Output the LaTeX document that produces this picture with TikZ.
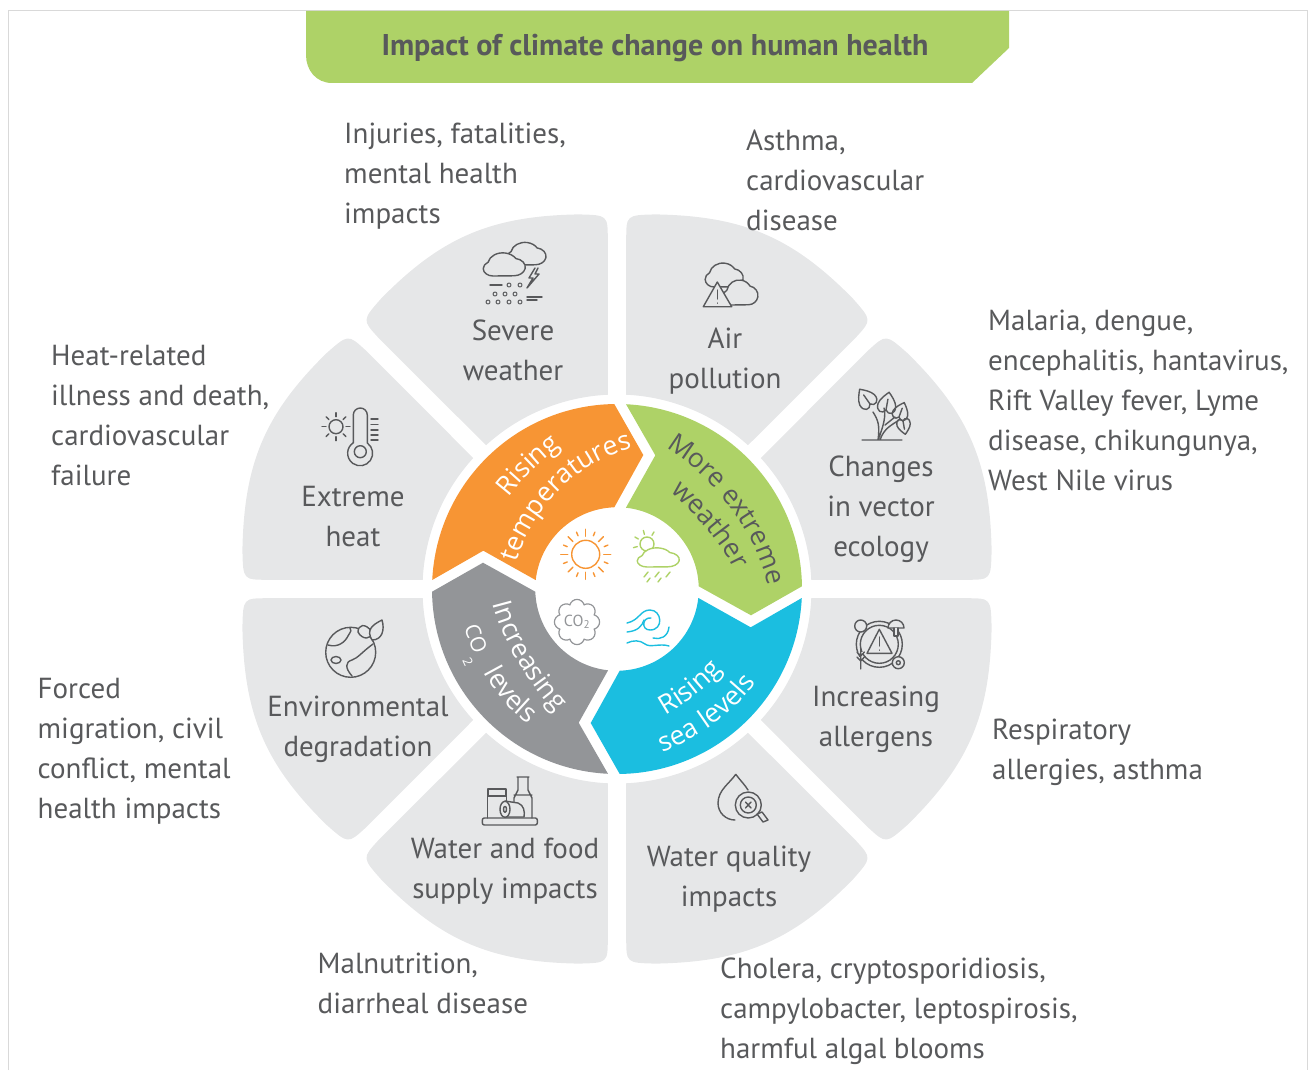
\documentclass[tikz,border=0pt]{standalone}
\usepackage{fontspec}
\setmainfont{PT Sans}
\newfontfamily\ringfamily{Open Sans}
\usetikzlibrary{decorations.text, shapes.symbols}
\definecolor{bannergreen}{HTML}{AED267}
\definecolor{ringorange}{HTML}{F79534}
\definecolor{ringblue}{HTML}{1BBEE0}
\definecolor{ringgray}{HTML}{939598}
\definecolor{sectorgray}{HTML}{E6E7E8}
\definecolor{textgray}{HTML}{58595B}
\newcommand{\ringfont}{\ringfamily\fontsize{26.5}{27}\selectfont}
\tikzset{x=1pt, y=1pt, % one unit is one pixel of the reference
sector/.style={fill=sectorgray},
segment/.style={fill=#1},
outcome/.style={anchor=north west, inner sep=0pt, align=left, text=textgray, font=\fontsize{29}{40}\selectfont},
factor/.style={anchor=north, inner sep=0pt, align=center, text=textgray, font=\fontsize{29}{40}\selectfont},
icon/.style={draw=textgray, line width=1.4pt, line cap=round, line join=round},
ringtext/.style 2 args={decorate, decoration={text along path, text align=center, text={|\ringfont\color{#1}|#2}}},
puff/.pic={\draw[pic actions] (0,0) arc[start angle=270,end angle=120,radius=8.5] arc[start angle=170,end angle=30,radius=13] arc[start angle=80,end angle=-90,radius=10] -- cycle;},
leaf/.pic={\draw[pic actions] (0,0) .. controls (3,5) and (10,3) .. (9,-5) .. controls (8,-10) and (3,-15) .. (0,-18) .. controls (-3,-15) and (-8,-10) .. (-9,-5) .. controls (-10,3) and (-3,5) .. (0,0) -- (0,-11);},
}
\begin{document}
\begin{tikzpicture}
\useasboundingbox (0,0) rectangle (1308,-1070);
\draw[gray!30, line width=1pt] (8,-1070) -- (8,-10.5) -- (1307,-10.5) -- (1307,-1070);

% banner
\fill[bannergreen] (306,-11) -- (1009,-11) -- (1009,-48) -- (972,-83) -- (332,-83) .. controls (316,-83) and (306,-70) .. (306,-55) -- cycle;
\node[text=textgray, font=\fontsize{30}{35}\selectfont\bfseries] (title) at (655,-48) {Impact of climate change on human health};

% grey sectors
\begin{scope}[shift={(617,-589)}]
\foreach \a/\d in {22.5/1,67.5/-1,112.5/1,157.5/-1,202.5/1,247.5/-1,292.5/1,337.5/-1}
\fill[sector, rotate=\a, yscale=\d] (19.84:194.5) -- (324,124.5) .. controls (346,132.5) and (346,132.5) .. (358.5,107)
.. controls (392.6,27) and (392.6,-27) .. (360.9,-107.6) .. controls (349,-134.6) and (349,-134.6) .. (325.9,-125)
-- (-19.84:194.5) arc[start angle=-19.84,end angle=19.84,radius=194.5] -- cycle;
% coloured ring
\foreach \a/\c in {0/ringorange,-90/bannergreen,-180/ringblue,-270/ringgray}
\fill[segment=\c, rotate=\a] (177.2:185) arc[start angle=177.2,end angle=90.84,radius=185] -- (26.3,134) -- (-2.7,81.7)
arc[start angle=91.9,end angle=173.7,radius=81.8] -- (-133.7,38.3) -- cycle;
\end{scope}

% ring labels
\path[ringtext={white}{Rising}] (505,-502) .. controls (522,-479) and (542,-460) .. (565,-443);
\path[ringtext={white}{temperatures}] (518,-557) .. controls (532,-515) and (570,-466) .. (627,-450);
\path[ringtext={textgray}{More extreme}] (668,-449) .. controls (700,-467) and (755,-525) .. (767,-583);
\path[ringtext={textgray}{weather}] (672,-493) .. controls (690,-510) and (720,-540) .. (733,-568);
\path[ringtext={white}{Rising}] (660,-718) .. controls (684,-705) and (708,-688) .. (726,-666);
\path[ringtext={white}{sea levels}] (656,-754) .. controls (690,-744) and (735,-715) .. (760,-677);
\path[ringtext={white}{Increasing}] (492,-600) .. controls (500,-638) and (529,-684) .. (558,-715);
\path[ringtext={white}{levels}] (481,-666) .. controls (492,-690) and (510,-712) .. (534,-728);
\node[text=white, font=\ringfamily\fontsize{21}{21}\selectfont, rotate=-70] (co) at (476,-639) {CO};
\node[text=white, font=\ringfamily\fontsize{13}{13}\selectfont, rotate=-65] (two) at (468,-662) {2};

% factor labels
\node[factor] (severe) at (513,-312) {\strut Severe\\weather};
\node[factor] (air) at (725,-320) {\strut Air\\pollution};
\node[factor] (vector) at (881,-448) {\strut Changes\\in vector\\ecology};
\node[factor] (allergens) at (876,-678) {\strut Increasing\\allergens};
\node[factor] (quality) at (729,-838) {\strut Water quality\\impacts};
\node[factor] (food) at (505,-830) {\strut Water and food\\supply impacts};
\node[factor] (degradation) at (358,-688) {\strut Environmental\\degradation};
\node[factor] (heat) at (353,-478) {\strut Extreme\\heat};

% outcome labels
\node[outcome] (injuries) at (344,-115) {\strut Injuries, fatalities,\\mental health\\impacts};
\node[outcome] (asthma) at (746,-122) {\strut Asthma,\\cardiovascular\\disease};
\node[outcome] (malaria) at (988,-302) {\strut Malaria, dengue,\\encephalitis, hantavirus,\\Rift Valley fever, Lyme\\disease, chikungunya,\\West Nile virus};
\node[outcome] (failure) at (51,-337) {\strut Heat-related\\illness and death,\\cardiovascular\\failure};
\node[outcome] (forced) at (37.5,-670) {\strut Forced\\migration, civil\\conflict, mental\\health impacts};
\node[outcome] (respiratory) at (992,-711) {\strut Respiratory\\allergies, asthma};
\node[outcome] (malnutrition) at (317.5,-945) {\strut Malnutrition,\\diarrheal disease};
\node[outcome] (cholera) at (720,-950) {\strut Cholera, cryptosporidiosis,\\campylobacter, leptospirosis,\\harmful algal blooms};

% centre icons
\draw[icon, draw=ringorange] (585.7,-554.3) circle (14);
\foreach \a in {0,45,...,315} \draw[icon, draw=ringorange] (585.7,-554.3) ++(\a:18) -- ++(\a:7);
\foreach \a in {22.5,67.5,...,337.5} \draw[icon, draw=ringorange] (585.7,-554.3) ++(\a:20) -- ++(\a:4);
\draw[icon, draw=bannergreen] (647,-544) circle (7);
\foreach \a in {60,105,150,195} \draw[icon, draw=bannergreen] (647,-544) ++(\a:10) -- ++(\a:4);
\pic[icon, draw=bannergreen, fill=white, xscale=1.15, yscale=.72] at (647,-567) {puff};
\foreach \x in {648,659,670} \draw[icon, draw=bannergreen] (\x,-572) -- ++(-4,-5);
\foreach \x in {650,661} \draw[icon, draw=bannergreen] (\x,-578) -- ++(-3,-4);
\node[cloud, draw=ringgray, line width=1.2pt, minimum width=42pt, minimum height=38pt, inner sep=0pt, cloud puffs=8, text=ringgray, font=\fontsize{16}{16}\selectfont] (cotwo) at (577,-622) {CO\textsubscript{2}};
\begin{scope}[line width=1.4pt, line cap=round]
\draw[ringblue] (627,-623) .. controls (640,-620) and (640,-610) .. (650,-610) .. controls (662,-610) and (664,-630) .. (650,-630) .. controls (641,-630) and (642,-617) .. (651,-618);
\draw[ringblue] (627,-632) .. controls (638,-631) and (642,-626) .. (644,-620);
\draw[ringblue] (653,-638) .. controls (660,-640) and (668,-637) .. (669,-627);
\draw[ringblue] (627,-643) .. controls (633,-640) and (640,-640) .. (645,-644) .. controls (650,-648) and (660,-643) .. (669,-646);
\end{scope}

% severe weather
\pic[icon, fill=sectorgray, xscale=1.08, yscale=.85] at (515.7,-265) {puff};
\pic[icon, fill=sectorgray, xscale=1.15, yscale=.87] at (493,-276) {puff};
\draw[icon] (535,-268) -- (529,-278) -- (533,-278) -- (527,-288) -- (539,-274) -- (535,-274) -- (538,-268);
\foreach \x/\y in {509/-285,520/-285,495/-294,505/-294,515/-294,488/-302,498/-302,509/-302,520/-302}
\draw[icon, line width=1pt] (\x,\y) circle (2);
\draw[icon] (490,-285) -- (502,-285) (527,-297) -- (542,-297) (527,-300) -- (537,-300);
% extreme heat
\draw[icon] (336,-426.7) circle (7);
\foreach \a in {0,45,...,315} \draw[icon] (336,-426.7) ++(\a:10) -- ++(\a:4);
\draw[icon] (353.3,-443) -- (353.3,-415) arc[start angle=180,end angle=0,radius=7] -- (367.3,-443) arc[start angle=55,end angle=-235,radius=12.5] -- cycle;
\draw[icon] (360.3,-451.7) circle (6);
\foreach \y in {-419,-424.5,-430,-435,-440} \draw[icon] (371,\y) -- (378,\y);
% air pollution
\pic[icon, fill=sectorgray, xscale=1.04, yscale=.9] at (714,-287) {puff};
\pic[icon, fill=sectorgray, xscale=.96, yscale=.94] at (731,-305) {puff};
\draw[icon, fill=sectorgray] (717.3,-282) -- (703.3,-306.7) -- (731.7,-306.7) -- cycle;
\draw[icon] (717.3,-290) -- (717.3,-299) (717.3,-303) -- (717.3,-303.2);
% vector ecology
\draw[icon] (862,-440) -- (902,-440) (878,-440) .. controls (880,-425) and (878,-420) .. (873,-412) (878,-440) .. controls (884,-425) and (886,-415) .. (884,-408) (880,-440) .. controls (884,-428) and (892,-425) .. (899,-420) (885,-425) -- (895,-417);
\pic[icon, rotate=215] at (870,-404) {leaf};
\pic[icon, rotate=170] at (886,-410) {leaf};
\pic[icon, rotate=160, scale=.85] at (899,-417) {leaf};
\pic[icon, rotate=10, scale=.75] at (903,-421) {leaf};
% increasing allergens
\draw[icon] (879.3,-644.3) circle (23);
\draw[icon] (879.3,-644.3) circle (19);
\draw[icon, fill=sectorgray] (860.7,-626) circle (6);
\draw[icon, fill=sectorgray] (898.3,-662.7) circle (6);
\draw[icon] (898.3,-662.7) circle (2);
\draw[icon, fill=sectorgray] (888,-628) arc[start angle=180,end angle=0,radius=8] -- cycle;
\draw[icon, fill=sectorgray] (894,-628) -- (894,-636) -- (898,-636) -- (898,-628);
\draw[icon, fill=sectorgray] (860.7,-669) -- (860.7,-648) (857,-652) -- (860.7,-656) -- (864.4,-652) (857,-657) -- (860.7,-661) -- (864.4,-657);
\draw[icon] (879.3,-629.3) -- (867,-653.3) -- (892,-653.3) -- cycle;
\draw[icon] (879.3,-637) -- (879.3,-646) (879.3,-650) -- (879.3,-650.2);
% water quality
\draw[icon] (735.7,-774.3) .. controls (730,-783) and (718,-790) .. (718,-803) .. controls (718,-813) and (726,-820) .. (735,-820) (735.7,-774.3) .. controls (740,-780) and (745,-785) .. (748,-790);
\draw[icon, fill=sectorgray] (748.3,-805) circle (13);
\draw[icon] (748.3,-805) circle (8) (745.5,-802) -- (751,-808) (745.5,-808) -- (751,-802);
\draw[icon] (757,-814) -- (763,-822) -- (768,-820) -- (762,-812) -- cycle;
% food supply
\draw[icon, rounded corners=2pt] (482.3,-818) rectangle (537.3,-825);
\draw[icon] (487.3,-818) -- (487.3,-796) -- (506.7,-796) -- (506.7,-805) (488,-796) -- (488,-789) -- (506,-789) -- (506,-796);
\draw[icon] (517,-777) -- (529,-777) (518,-777) -- (518,-790) -- (514,-798) -- (514,-804) (528,-777) -- (528,-790) -- (532,-798) -- (532,-818) (514,-795) -- (532,-795);
\draw[icon, fill=sectorgray] (505,-801) -- (518,-803) .. controls (524,-805) and (525,-812) .. (524,-817) -- (505,-817);
\draw[icon, fill=sectorgray] (505,-809.3) ellipse (5 and 8);
\draw[icon] (505,-809.3) ellipse (1.5 and 3);
% environmental degradation
\draw[icon] (350.7,-652.3) circle (25);
\draw[icon] (328,-645) .. controls (338,-648) and (345,-642) .. (348,-636) .. controls (351,-631) and (352,-630) .. (350,-628);
\draw[icon] (336,-660) ellipse (5 and 3.5);
\draw[icon] (352,-676) .. controls (345,-668) and (345,-662) .. (352,-660) .. controls (358,-658) and (362,-652) .. (373,-644);
\draw[icon, fill=sectorgray] (358,-632) .. controls (358,-625) and (365,-622) .. (372,-632) .. controls (372,-640) and (362,-640) .. (358,-632);
\draw[icon, fill=sectorgray] (372,-640) .. controls (366,-630) and (372,-625) .. (382,-620) .. controls (385,-630) and (382,-640) .. (372,-640);
\end{tikzpicture}
\end{document}
